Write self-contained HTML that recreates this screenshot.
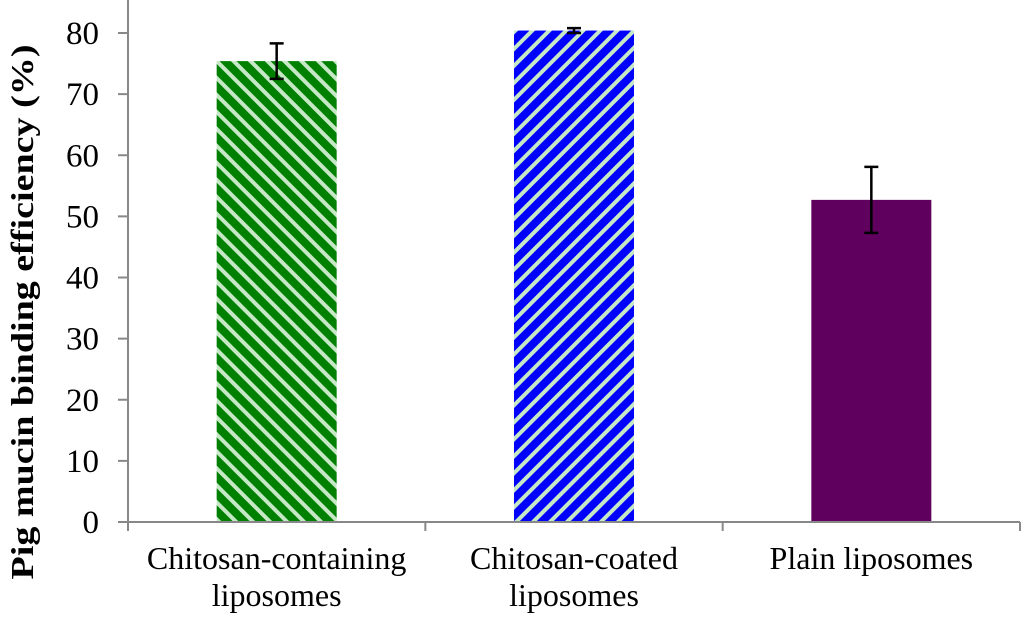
<!DOCTYPE html>
<html><head><style>
body{margin:0;background:#fff;width:1024px;height:620px;overflow:hidden}
text{font-family:"Liberation Serif",serif;fill:#000}
</style></head><body>
<svg width="1024" height="620">
<defs>
<pattern id="pg" width="12" height="12" patternUnits="userSpaceOnUse" patternTransform="rotate(-45)">
<rect width="12" height="12" fill="#008000"/><rect width="4" height="12" fill="#c6e8c6"/></pattern>
<pattern id="pb" width="12" height="12" patternUnits="userSpaceOnUse" patternTransform="rotate(45)">
<rect width="12" height="12" fill="#0000ff"/><rect width="4" height="12" fill="#c6e8c6"/></pattern>
</defs>
<g id="plot"></g>
<text transform="translate(33,312) rotate(-90)" text-anchor="middle" font-size="32" font-weight="bold" textLength="535" lengthAdjust="spacingAndGlyphs">Pig mucin binding efficiency (%)</text>
</svg>
<script>
const categories=[["Chitosan-containing","liposomes"],["Chitosan-coated","liposomes"],["Plain liposomes"]];
const values=[75.4,80.4,52.7];
const errors=[2.9,0.4,5.4];
const fills=["url(#pg)","url(#pb)","#60005e"];
const yTicks=[0,10,20,30,40,50,60,70,80];
const X0=128,X1=1020,Y0=522,Y80=33;
const y=v=>Y0-(v/80)*(Y0-Y80);
const cw=(X1-X0)/categories.length;
const g=document.getElementById('plot');
const NS="http://www.w3.org/2000/svg";
function mk(t,a){const e=document.createElementNS(NS,t);for(const k in a)e.setAttribute(k,a[k]);g.appendChild(e);return e;}
yTicks.forEach(t=>{
 const l=mk('line',{x1:118,x2:X0,y1:y(t),y2:y(t),stroke:'#888','stroke-width':2});
 
 
 const tx=mk('text',{x:99,y:y(t)+11,'text-anchor':'end','font-size':33});tx.textContent=t;
 
 
});
values.forEach((v,i)=>{
 const cx=X0+cw*(i+0.5);
 const r=mk('rect',{x:cx-60,y:y(v),width:120,height:Y0-y(v),fill:fills[i]});
 
 
 const e1=y(v+errors[i]),e2=y(v-errors[i]);
 const eb=mk('path',{d:`M${cx},${e1}V${e2}M${cx-7},${e1}H${cx+7}M${cx-7},${e2}H${cx+7}`,stroke:'#000','stroke-width':2.5,fill:'none'});
 
 
 categories[i].forEach((s,j)=>{
  const t=mk('text',{x:cx,y:569+j*37,'text-anchor':'middle','font-size':32});t.textContent=s;
  
  
 });
});
for(let i=0;i<=categories.length;i++){
 const x=X0+cw*i;
 const l=mk('line',{x1:x,x2:x,y1:Y0,y2:Y0+9,stroke:'#888','stroke-width':2});
 
 
}
const ya=mk('line',{x1:X0,x2:X0,y1:0,y2:Y0,stroke:'#888','stroke-width':2});


const xa=mk('line',{x1:118,x2:X1,y1:Y0,y2:Y0,stroke:'#888','stroke-width':2});


</script>
</body></html>
